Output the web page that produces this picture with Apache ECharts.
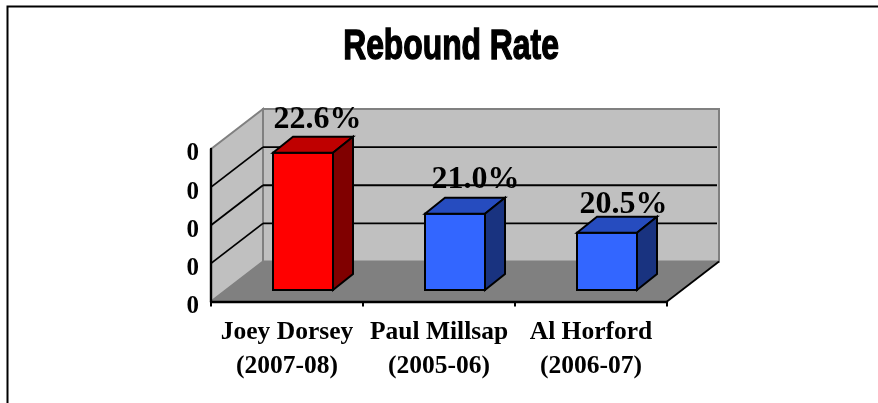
<!DOCTYPE html>
<html>
<head>
<meta charset="utf-8">
<style>html,body{margin:0;padding:0;background:#fff}#c{width:878px;height:403px}</style>
<script src="https://cdn.jsdelivr.net/npm/echarts@6/dist/echarts.min.js"></script>
</head>
<body>
<div id="c"></div>
<script>
var categories = ['Joey Dorsey\n(2007-08)', 'Paul Millsap\n(2005-06)', 'Al Horford\n(2006-07)'];
var rates = [0.226, 0.210, 0.205];
var valueTicks = [0.19, 0.20, 0.21, 0.22, 0.23];
var faceColors = ['#FF0000', '#3366FF', '#3366FF'];
var topColors = ['#BF0000', '#264CBF', '#264CBF'];
var sideColors = ['#800000', '#193380', '#193380'];
// hand-placed label nudges from the original chart
var labelShiftX = [14.5, 20.5, 16.5];
var labelGapY = [1, 2, -4];

var WALL_DX = 52, WALL_DY = 40;     // depth of the 3D box
var BAR_OFF_X = 16, BAR_OFF_Y = 11.5; // front plane of bars inside the box
var BAR_W = 60, BAR_DX = 20, BAR_DY = 16;
var SERIF = '"Liberation Serif","Times New Roman",serif';

function poly(points, fill, stroke, width) {
  return {type: 'polygon', shape: {points: points},
    style: {fill: fill, stroke: stroke || 'none', lineWidth: width || 0, lineJoin: 'miter'}};
}
function line(a, b, stroke, width) {
  return {type: 'line', shape: {x1: a[0], y1: a[1], x2: b[0], y2: b[1]},
    style: {stroke: stroke, lineWidth: width}};
}

function renderFrame(params, api) {
  var cs = params.coordSys;
  var l = cs.x, r = cs.x + cs.width, t = cs.y, b = cs.y + cs.height;
  var dx = WALL_DX, dy = WALL_DY;
  var kids = [
    poly([[l + dx, t - dy], [r + dx, t - dy], [r + dx, b - dy], [l + dx, b - dy]], '#C0C0C0', '#808080', 2),
    poly([[l, t], [l + dx, t - dy], [l + dx, b - dy], [l, b]], '#C0C0C0', '#808080', 2),
    poly([[l, b], [l + dx, b - dy], [r + dx, b - dy], [r, b]], '#808080')
  ];
  valueTicks.slice(1, -1).forEach(function (v) {
    var y = api.coord([0, v])[1];
    kids.push(line([l, y], [l + dx, y - dy], '#000', 1.8));
    kids.push(line([l + dx, y - dy], [r + dx - 2, y - dy], '#000', 1.8));
  });
  kids.push(line([r, b], [r + dx, b - dy], '#000', 1.8));
  return {type: 'group', children: kids};
}

function renderBar(params, api) {
  var i = api.value(0), v = api.value(1);
  var top = api.coord([i, v]), base = api.coord([i, valueTicks[0]]);
  var x0 = top[0] - BAR_W / 2 + BAR_OFF_X;
  var x1 = x0 + BAR_W;
  var y0 = top[1] - BAR_OFF_Y, y1 = base[1] - BAR_OFF_Y;
  return {type: 'group', children: [
    poly([[x0, y0], [x1, y0], [x1, y1], [x0, y1]], faceColors[i], '#000', 2),
    poly([[x0, y0], [x0 + BAR_DX, y0 - BAR_DY], [x1 + BAR_DX, y0 - BAR_DY], [x1, y0]], topColors[i], '#000', 2),
    poly([[x1, y0], [x1 + BAR_DX, y0 - BAR_DY], [x1 + BAR_DX, y1 - BAR_DY], [x1, y1]], sideColors[i], '#000', 2),
    {type: 'text', z2: 10, style: {
      text: (v * 100).toFixed(1) + '%',
      x: x0 + BAR_W / 2 + labelShiftX[i], y: y0 - BAR_DY - labelGapY[i],
      align: 'center', verticalAlign: 'bottom',
      font: 'bold 32px ' + SERIF, fill: '#000'
    }}
  ]};
}

var chart = echarts.init(document.getElementById('c'), null, {renderer: 'canvas'});
chart.setOption({
  animation: false,
  backgroundColor: '#fff',
  grid: {left: 211, top: 149, width: 456, height: 152.5},
  xAxis: {
    type: 'category', data: categories, z: 6,
    axisLine: {lineStyle: {color: '#000', width: 2.4}},
    axisTick: {show: true, interval: 0, alignWithLabel: false, length: 5, lineStyle: {color: '#000', width: 2}},
    axisLabel: {interval: 0, color: '#000', fontFamily: SERIF, fontWeight: 'bold', fontSize: 25.5, lineHeight: 34, margin: 14}
  },
  yAxis: {
    type: 'value', min: 0.19, max: 0.23, interval: 0.01, z: 6,
    splitLine: {show: false},
    axisLine: {show: true, lineStyle: {color: '#000', width: 2.4}},
    axisTick: {show: false},
    axisLabel: {color: '#000', fontFamily: SERIF, fontWeight: 'bold', fontSize: 25, margin: 12,
      verticalAlign: 'top', lineHeight: 10,
      formatter: function (v) { return Math.round(v).toString(); }}
  },
  series: [
    {type: 'custom', z: 1, silent: true, renderItem: renderFrame, data: [[0, valueTicks[0]]], clip: false},
    {type: 'custom', z: 8, silent: true, renderItem: renderBar, clip: false,
      data: rates.map(function (v, i) { return [i, v]; })}
  ],
  graphic: [{
    type: 'polyline', silent: true, z: 0,
    shape: {points: [[7.5, 403], [7.5, 6.5], [878, 6.5]]},
    style: {fill: 'none', stroke: '#000', lineWidth: 2}
  }, {
    type: 'text', silent: true, z: 10,
    x: 451, y: 47.5, scaleX: 0.74, scaleY: 1,
    style: {
      text: 'Rebound Rate', align: 'center', verticalAlign: 'middle',
      font: 'bold 43px "Liberation Sans",Arial,sans-serif',
      fill: '#000', stroke: '#000', lineWidth: 1.4
    }
  }]
});
</script>
</body>
</html>
